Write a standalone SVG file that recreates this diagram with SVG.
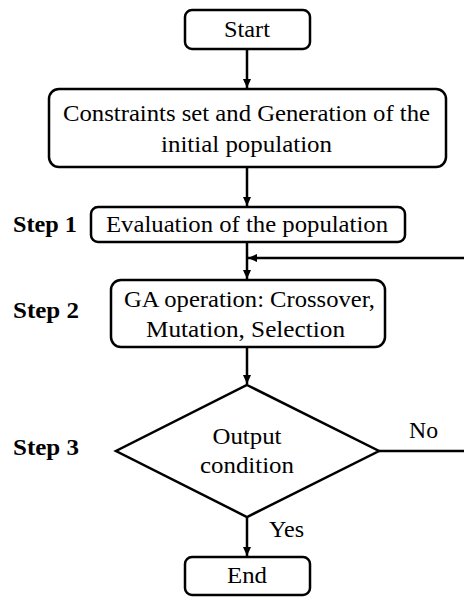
<svg xmlns="http://www.w3.org/2000/svg" width="464" height="597" viewBox="0 0 464 597">
<style>
.box{fill:#fff;stroke:#000;stroke-width:2.5}
.t{font-family:"Liberation Serif","Times New Roman",serif;font-size:24px;fill:#000;text-anchor:middle}
.s{font-family:"Liberation Serif","Times New Roman",serif;font-size:24px;font-weight:bold;fill:#000}
.c{fill:none;stroke:#000;stroke-width:2.5}
</style>
<defs>
<marker id="ah" markerWidth="10" markerHeight="10" refX="9" refY="5" orient="auto" markerUnits="userSpaceOnUse">
<path d="M0,1 L9,5 L0,9 Z" fill="#000"/>
</marker>
</defs>
<rect width="464" height="597" fill="#fff"/>
<g id="connectors">
<line class="c" x1="247" y1="49" x2="247" y2="88" marker-end="url(#ah)"/>
<line class="c" x1="247" y1="168" x2="247" y2="206" marker-end="url(#ah)"/>
<line class="c" x1="247" y1="242" x2="247" y2="279" marker-end="url(#ah)"/>
<line class="c" x1="464" y1="258" x2="248" y2="258" marker-end="url(#ah)"/>
<line class="c" x1="247" y1="347" x2="247" y2="384" marker-end="url(#ah)"/>
<line class="c" x1="379" y1="451" x2="464" y2="451"/>
<line class="c" x1="247" y1="517" x2="247" y2="556" marker-end="url(#ah)"/>
<text class="t" x="423.5" y="438" textLength="29" lengthAdjust="spacingAndGlyphs">No</text>
<text class="t" x="286.5" y="537" textLength="35" lengthAdjust="spacingAndGlyphs">Yes</text>
</g>
<g id="start">
<rect class="box" x="185" y="10" width="125" height="39" rx="7"/>
<text class="t" x="247" y="37" textLength="46" lengthAdjust="spacingAndGlyphs">Start</text>
</g>
<g id="init">
<rect class="box" x="49" y="89" width="397" height="78" rx="10"/>
<text class="t" x="246.5" y="121" textLength="367" lengthAdjust="spacingAndGlyphs">Constraints set and Generation of the</text>
<text class="t" x="246.5" y="152" textLength="171" lengthAdjust="spacingAndGlyphs">initial population</text>
</g>
<g id="step1">
<text class="s" x="13" y="232" textLength="64" lengthAdjust="spacingAndGlyphs">Step 1</text>
<rect class="box" x="91" y="207" width="314" height="35" rx="7"/>
<text class="t" x="247" y="232" textLength="282" lengthAdjust="spacingAndGlyphs">Evaluation of the population</text>
</g>
<g id="step2">
<text class="s" x="13" y="318" textLength="66" lengthAdjust="spacingAndGlyphs">Step 2</text>
<rect class="box" x="111" y="280" width="274" height="67" rx="10"/>
<text class="t" x="249.5" y="307" textLength="251" lengthAdjust="spacingAndGlyphs">GA operation: Crossover,</text>
<text class="t" x="245.5" y="337" textLength="199" lengthAdjust="spacingAndGlyphs">Mutation, Selection</text>
</g>
<g id="step3">
<text class="s" x="13" y="455" textLength="66" lengthAdjust="spacingAndGlyphs">Step 3</text>
<polygon class="box" points="247,385 379,451 247,517 116,451"/>
<text class="t" x="247" y="444" textLength="69" lengthAdjust="spacingAndGlyphs">Output</text>
<text class="t" x="247" y="473" textLength="94" lengthAdjust="spacingAndGlyphs">condition</text>
</g>
<g id="end">
<rect class="box" x="185" y="557" width="125" height="38" rx="7"/>
<text class="t" x="247" y="583" textLength="40" lengthAdjust="spacingAndGlyphs">End</text>
</g>
</svg>
